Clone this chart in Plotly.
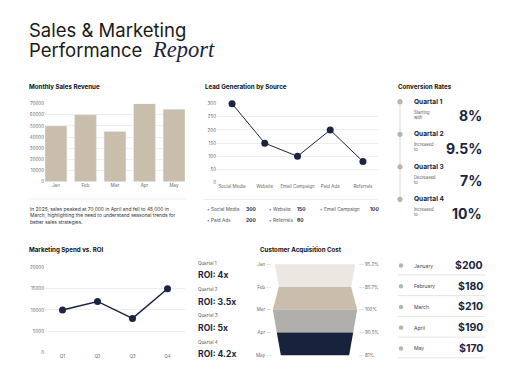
import plotly.graph_objects as go

# ---------------- data ----------------
months = ["Jan", "Feb", "Mar", "Apr", "May"]
sales = [50000, 60000, 45000, 70000, 65000]

lead_sources = ["Social Media", "Website", "Email Campaign", "Paid Ads", "Referrals"]
leads = [300, 150, 100, 200, 80]

quarters = ["Q1", "Q2", "Q3", "Q4"]
spend = [10000, 12000, 8000, 15000]
roi = ["4x", "3.5x", "5x", "4.2x"]

conv_labels = ["Quartal 1", "Quartal 2", "Quartal 3", "Quartal 4"]
conv_desc = ["Starting<br>with", "Increased<br>to", "Decreased<br>to", "Increased<br>to"]
conv_rates = [8, 9.5, 7, 10]

cac_months = ["January", "February", "March", "April", "May"]
cac = [200, 180, 210, 190, 170]

# ---------------- style ----------------
W, H = 512, 384
NAVY = "#1b2440"
BEIGE = "#c9bdab"
GRID = "#eeeeee"
TICK = "#666666"
FONT = "Inter"
band_colors = ["#ebe7e2", "#c9bdab", "#b0afab", "#17223d"]


def X(x):
    return x / W


def Y(y):
    return 1 - y / H


fig = go.Figure()

# Monthly sales revenue (bars)
fig.add_trace(go.Bar(x=months, y=sales, marker_color=BEIGE, xaxis="x", yaxis="y"))

# Lead generation (line)
fig.add_trace(go.Scatter(x=lead_sources, y=leads, mode="lines+markers",
                         line=dict(color=NAVY, width=1),
                         marker=dict(color=NAVY, size=7), cliponaxis=False,
                         xaxis="x2", yaxis="y2"))

# Marketing spend (line)
fig.add_trace(go.Scatter(x=quarters, y=spend, mode="lines+markers",
                         line=dict(color=NAVY, width=1.5),
                         marker=dict(color=NAVY, size=7), cliponaxis=False,
                         xaxis="x3", yaxis="y3"))

# Customer acquisition cost funnel (trapezoid bands between months)
for i in range(len(cac) - 1):
    a, b = cac[i], cac[i + 1]
    fig.add_trace(go.Scatter(
        x=[-a / 2, a / 2, b / 2, -b / 2, -a / 2],
        y=[i, i, i + 1, i + 1, i],
        fill="toself", fillcolor=band_colors[i], mode="lines",
        line=dict(width=0, color=band_colors[i]),
        xaxis="x4", yaxis="y4"))
# invisible trace to anchor right axis
fig.add_trace(go.Scatter(x=[0], y=[0], mode="markers", marker=dict(opacity=0),
                         xaxis="x4", yaxis="y5"))

cac_max = max(cac)
pct_text = []
for v in cac:
    p = round(v / cac_max * 100, 1)
    s = f"{p:.1f}"
    if s.endswith(".0"):
        s = s[:-2]
    pct_text.append(s + "%")

tickfont = dict(family=FONT, size=4.5, color=TICK)

ax_common = dict(showline=False, zeroline=False, tickfont=tickfont, ticks="")

fig.update_layout(
    width=W, height=H, margin=dict(l=0, r=0, t=0, b=0),
    paper_bgcolor="white", plot_bgcolor="rgba(0,0,0,0)",
    showlegend=False, bargap=0.26,
    font=dict(family=FONT, color=NAVY),
    xaxis=dict(domain=[X(45), X(185)], range=[-0.37, 4.37], showgrid=False,
               anchor="y", **ax_common),
    yaxis=dict(domain=[Y(182), Y(103)], range=[0, 70000], tickvals=list(range(0, 70001, 10000)),
               tickformat="d", gridcolor=GRID, gridwidth=1, anchor="x", **ax_common),
    xaxis2=dict(domain=[X(217), X(378)], range=[-0.46, 4.46], showgrid=False,
                anchor="y2", **ax_common),
    yaxis2=dict(domain=[Y(183), Y(103)], range=[0, 300], tickvals=list(range(0, 301, 50)),
                gridcolor=GRID, anchor="x2", **ax_common),
    xaxis3=dict(domain=[X(45), X(185)], range=[-0.5, 3.5], showgrid=False,
                anchor="y3", **ax_common),
    yaxis3=dict(domain=[Y(355), Y(269)], range=[0, 20000], tickvals=list(range(0, 20001, 5000)),
                tickformat="d", gridcolor=GRID, anchor="x3", **ax_common),
    xaxis4=dict(domain=[X(272), X(358)], range=[-107, 107], visible=False, anchor="y4"),
    yaxis4=dict(domain=[Y(359.1), Y(264.6)], range=[4.05, -0.05], tickvals=list(range(5)),
                ticktext=months, showgrid=False, zeroline=False, showline=False,
                ticks="outside", ticklen=5, tickcolor="#e6e6e6", tickfont=tickfont, anchor="x4"),
    yaxis5=dict(domain=[Y(359.1), Y(264.6)], range=[4.05, -0.05], tickvals=list(range(5)),
                ticktext=pct_text, showgrid=False, zeroline=False, showline=False,
                ticks="outside", ticklen=5, tickcolor="#e6e6e6", tickfont=tickfont,
                overlaying="y4", side="right", anchor="x4"),
)

ann = []
shapes = []


def text(x, y, t, size, color=NAVY, xanchor="left", family=FONT, yanchor="middle", **kw):
    ann.append(dict(x=X(x), y=Y(y), xref="paper", yref="paper", text=t, showarrow=False,
                    xanchor=xanchor, yanchor=yanchor, align=xanchor if xanchor != "center" else "center",
                    font=dict(size=size, color=color, family=family), **kw))


def hline(x0, x1, y, color, w=1):
    shapes.append(dict(type="line", xref="paper", yref="paper", x0=X(x0), x1=X(x1),
                       y0=Y(y), y1=Y(y), line=dict(color=color, width=w)))


def dot(x, y, r, color):
    shapes.append(dict(type="circle", xref="paper", yref="paper", x0=X(x - r), x1=X(x + r),
                       y0=Y(y + r), y1=Y(y - r), fillcolor=color, line=dict(width=0)))


# Title
text(27, 28, "Sales & Marketing", 18.5, color="#1a1a1a")
text(27, 49, "Performance", 18.5, color="#1a1a1a")
text(150, 48, "<i>Report</i>", 22.5, color=NAVY, family="Liberation Serif")

# Section titles
TS = 6.2
text(27, 86, "<b>Monthly Sales Revenue</b>", TS, color="#111111")
text(203, 86, "<b>Lead Generation by Source</b>", TS, color="#111111")
text(396, 86, "<b>Conversion Rates</b>", TS, color="#111111")
text(27, 251, "<b>Marketing Spend vs. ROI</b>", TS, color="#111111")
text(258, 251, "<b>Customer Acquisition Cost</b>", TS, color="#111111")

# Sales note
hline(28, 186, 199.5, "#eeeeee")
i_max = sales.index(max(sales))
i_min = sales.index(min(sales))
full = {"Jan": "January", "Feb": "February", "Mar": "March", "Apr": "April", "May": "May"}
note = (f"In 2025, sales peaked at {max(sales):,} in {full[months[i_max]]} and fell to {min(sales):,} in<br>"
        f"{full[months[i_min]]}, highlighting the need to understand seasonal trends for<br>"
        "better sales strategies.")
ann.append(dict(x=X(28), y=Y(205), xref="paper", yref="paper", text=note, showarrow=False,
                xanchor="left", yanchor="top", align="left",
                font=dict(size=4.9, color="#333333", family=FONT)))

# Lead legend
hline(204, 378, 200, "#eeeeee")
leg_pos = [(205, 210, 244), (267, 210, 295), (318, 210, 368), (205, 221, 244), (267, 221, 295)]
for (bx, by, vx), name, val in zip(leg_pos, lead_sources, leads):
    text(bx, by, "•", 4.5, color="#777777")
    text(bx + 4, by, name, 4.7, color="#555555")
    text(vx, by, f"<b>{val}</b>", 4.9, color=NAVY)

# Conversion rates
shapes.append(dict(type="line", xref="paper", yref="paper", x0=X(400), x1=X(400),
                   y0=Y(101), y1=Y(200), line=dict(color="#dcd9d4", width=1), layer="below"))
for i, (lab, d, r) in enumerate(zip(conv_labels, conv_desc, conv_rates)):
    y = 101 + 33 * i
    dot(400, y, 2.6, "#b8b5b0")
    text(412, y, f"<b>{lab}</b>", 6.6, color=NAVY)
    text(412, y + 13, d, 4.2, color="#555555")
    rs = f"{r:g}%"
    text(484, y + 14, f"<b>{rs}</b>", 14, color=NAVY, xanchor="right")

# ROI list
for i, (q, r) in enumerate(zip(conv_labels, roi)):
    y = 265 + 26.5 * i
    text(196, y, q, 4.5, color="#555555")
    text(196, y + 12, f"<b>ROI: {r}</b>", 8.6, color=NAVY)

# CAC list
for i, (m, v) in enumerate(zip(cac_months, cac)):
    y = 267 + 21 * i
    dot(401, y, 2.2, "#b8b5b0")
    text(412, y, m, 5, color="#444444")
    text(485, y, f"<b>${v}</b>", 10.5, color=NAVY, xanchor="right")
    hline(398, 485, y + 9.5, "#e8e4de")

fig.update_layout(annotations=ann, shapes=shapes)

fig.write_html("out.html", config={"displayModeBar": False},
               post_script="document.body.style.margin='0';")
